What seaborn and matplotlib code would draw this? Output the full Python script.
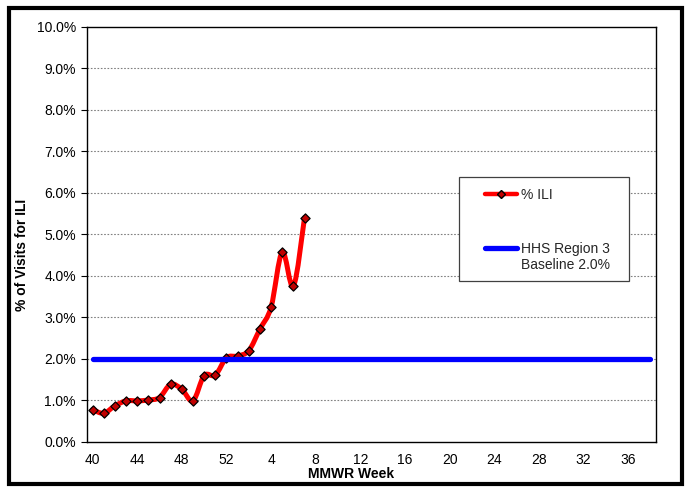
import numpy as np
import pandas as pd
import matplotlib
matplotlib.use("Agg")
import matplotlib.pyplot as plt
import seaborn as sns
from matplotlib.path import Path
from matplotlib.patches import PathPatch, Rectangle
from matplotlib.lines import Line2D
from matplotlib.ticker import FuncFormatter

# ---- data ----
week_labels = [str(w) for w in list(range(40, 53)) + list(range(1, 39))]
ili_pct = [0.77, 0.68, 0.86, 0.98, 0.98, 1.00, 1.06, 1.38, 1.26, 0.98,
           1.59, 1.60, 2.02, 2.06, 2.19, 2.71, 3.24, 4.57, 3.74, 5.40]
baseline_pct = 2.0
label_every = 4

sns.set_style("white")
plt.rcParams["font.family"] = ["Liberation Sans", "DejaVu Sans"]

fig = plt.figure(figsize=(6.92, 5.0), dpi=100)
ax = fig.add_axes([87 / 692, 1 - 441.5 / 500, (656 - 87) / 692, (441.5 - 26.7) / 500])

n_cat = len(week_labels)
pos = np.arange(n_cat)

df_ili = pd.DataFrame({"pos": pos[:len(ili_pct)], "ili": ili_pct})
df_base = pd.DataFrame({"pos": pos, "base": [baseline_pct] * n_cat})

# smoothed ILI line (Excel style Bezier smoothing through the data points)
pts = np.column_stack([df_ili["pos"].values, df_ili["ili"].values]).astype(float)
n = len(pts)
verts = [tuple(pts[0])]
codes = [Path.MOVETO]
for i in range(n - 1):
    p0 = pts[max(i - 1, 0)]
    p1 = pts[i]
    p2 = pts[i + 1]
    p3 = pts[min(i + 2, n - 1)]
    c1 = p1 + (p2 - p0) / 6.0
    c2 = p2 - (p3 - p1) / 6.0
    verts += [tuple(c1), tuple(c2), tuple(p2)]
    codes += [Path.CURVE4] * 3
ax.add_patch(PathPatch(Path(verts, codes), fill=False, edgecolor="#FF0000", lw=3.6,
                       capstyle="round", joinstyle="round", zorder=3))

sns.scatterplot(data=df_ili, x="pos", y="ili", marker="D", s=22, color="#C00000",
                edgecolor="black", linewidth=0.9, ax=ax, zorder=4, legend=False)

sns.lineplot(data=df_base, x="pos", y="base", color="#0000FF", lw=3.8, ax=ax,
             zorder=5, legend=False)
for l in ax.lines:
    l.set_solid_capstyle("round")

# axes
ax.set_xlim(-0.5, n_cat - 0.5)
ax.set_ylim(0, 10)
ax.set_yticks(np.arange(0, 11, 1))
ax.yaxis.set_major_formatter(FuncFormatter(lambda v, p: f"{v:.1f}%"))
ax.set_xticks(pos[::label_every])
ax.set_xticklabels(week_labels[::label_every])
ax.set_xticks(np.arange(-0.5, n_cat, 1), minor=True)
ax.tick_params(axis="x", which="major", length=0, labelsize=10, pad=8, colors="black")
ax.tick_params(axis="x", which="minor", length=4, width=0.8, color="black", direction="out")
ax.tick_params(axis="y", which="major", length=4, width=0.8, labelsize=10, pad=4,
               color="black", direction="out", left=True)
for lab in ax.get_xticklabels() + ax.get_yticklabels():
    lab.set_color("black")

ax.grid(False)
for yv in range(1, 10):
    ax.axhline(yv, color="#808080", lw=0.8, ls=(0, (1.5, 1.5)), zorder=1)

for s in ax.spines.values():
    s.set_visible(True)
    s.set_color("black")
    s.set_linewidth(1.0)

ax.set_xlabel("MMWR Week", fontsize=10, fontweight="bold", color="black")
ax.set_ylabel("% of Visits for ILI", fontsize=10, fontweight="bold", color="black")
ax.xaxis.set_label_coords((351 - 87) / 569, -(467.5 - 441.5) / 414.8)
ax.yaxis.set_label_coords((29 - 87) / 569, 0.45)

# legend
handles = [
    Line2D([], [], color="#FF0000", lw=3.2, marker="D", markersize=4,
           markerfacecolor="#C00000", markeredgecolor="black"),
    Line2D([], [], color="#0000FF", lw=3.8, solid_capstyle="round"),
]
labels = ["% ILI", "HHS Region 3\nBaseline 2.0%"]
ax.add_patch(Rectangle(((459 - 87) / 569, (441.5 - 281) / 414.8),
                       (629 - 459) / 569, (281 - 177) / 414.8,
                       transform=ax.transAxes, facecolor="white", edgecolor="#404040",
                       lw=0.9, zorder=6))
leg = ax.legend(handles, labels, loc="upper left",
                bbox_to_anchor=((485 - 87) / 569, (441.5 - 188) / 414.8),
                frameon=False, fontsize=10, borderpad=0, borderaxespad=0,
                handlelength=2.3, handletextpad=0.3, labelspacing=2.9)
leg.set_zorder(7)
# align the baseline handle with the first text line (as in the original)
h2 = leg.legend_handles[1]
h2.set_ydata(np.asarray(h2.get_ydata(), dtype=float) + 7.0)

# outer frame
fig.patches.append(Rectangle((9 / 692, 1 - 483.5 / 500), (682 - 9) / 692, (483.5 - 7.5) / 500,
                             transform=fig.transFigure, fill=False, edgecolor="black",
                             lw=3.0, zorder=10))

fig.savefig("out.png", dpi=100, facecolor="white")
